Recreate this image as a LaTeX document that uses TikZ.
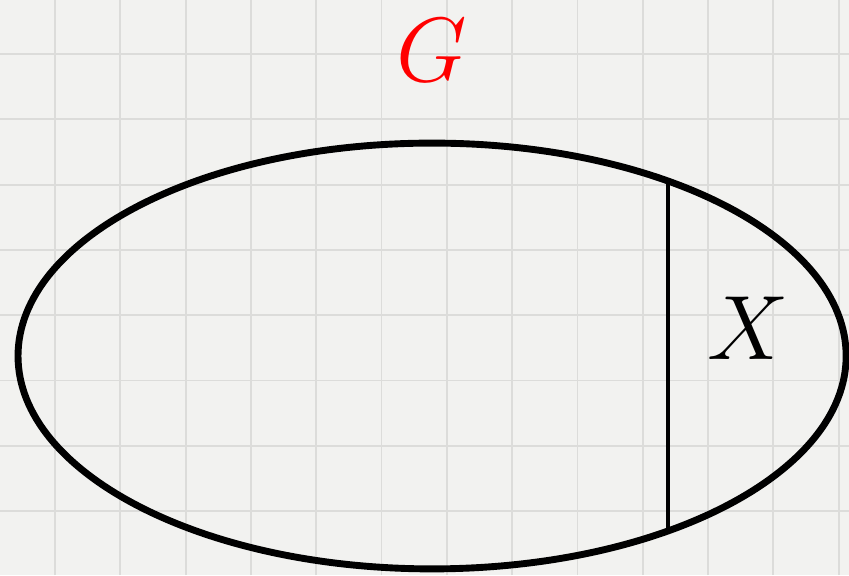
\documentclass[tikz,border=0pt]{standalone}
\usepackage{xcolor}
\usepackage{tikz}
\usetikzlibrary{shapes.geometric, positioning}
\definecolor{paperbg}{HTML}{F2F2F0}
\definecolor{gridline}{HTML}{DCDCDA}
\definecolor{setred}{HTML}{FF0000}

\begin{document}
\begin{tikzpicture}[
    setoval/.style={ellipse, draw=black, line width=3pt, inner sep=0pt,
                    minimum width=126.8mm, minimum height=65.2mm},
    cutline/.style={draw=black, line width=1.7pt},
    biglabel/.style={font=\Huge, inner sep=0pt, scale=1.6, transform shape}
]
\useasboundingbox (0,0) rectangle (13.0,8.805);
\clip (0,0) rectangle (13.0,8.805);
\fill[paperbg] (0,0) rectangle (13.0,8.805);
% graph paper
\foreach \gx in {0,...,12}
    \draw[gridline, line width=0.8pt] (0.842+\gx,0) -- (0.842+\gx,8.805);
\foreach \gy in {0,...,7}
    \draw[gridline, line width=0.8pt] (0,0.978+\gy) -- (13.0,0.978+\gy);

\node[setoval] (oval) at (6.616,3.354) {};
\node[biglabel, color=setred] (G) at (6.616,8.04) {$G$};
\node[biglabel] (X) at (11.45,3.78) {$X$};

\coordinate (cuttop) at (10.23,6.03);
\coordinate (cutbot) at (10.23,0.68);
\draw[cutline] (cuttop) -- (cutbot);
\end{tikzpicture}
\end{document}
